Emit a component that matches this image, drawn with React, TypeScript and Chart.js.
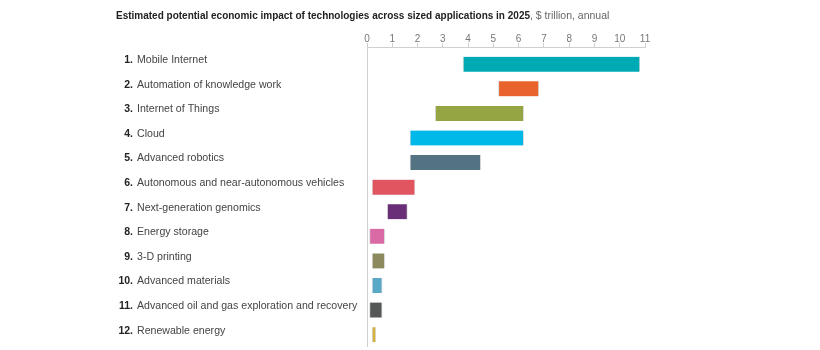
import React, { useEffect, useRef } from "react";
import { Chart, registerables } from "chart.js";

Chart.register(...registerables);

const titleBold = "Estimated potential economic impact of technologies across sized applications in 2025";
const titleRest = ", $ trillion, annual";

const categories = [
  "Mobile Internet",
  "Automation of knowledge work",
  "Internet of Things",
  "Cloud",
  "Advanced robotics",
  "Autonomous and near-autonomous vehicles",
  "Next-generation genomics",
  "Energy storage",
  "3-D printing",
  "Advanced materials",
  "Advanced oil and gas exploration and recovery",
  "Renewable energy",
];

const lowValues = [3.8, 5.2, 2.7, 1.7, 1.7, 0.2, 0.8, 0.1, 0.2, 0.2, 0.1, 0.2];
const highValues = [10.8, 6.8, 6.2, 6.2, 4.5, 1.9, 1.6, 0.7, 0.7, 0.6, 0.6, 0.35];

const barColors = [
  "#00AAB5",
  "#E8642C",
  "#95A544",
  "#00B9E9",
  "#537383",
  "#E15561",
  "#6A2D78",
  "#DA6AA6",
  "#8B8A5C",
  "#5AA8C8",
  "#555656",
  "#D5B13E",
];

const xTicks = [0, 1, 2, 3, 4, 5, 6, 7, 8, 9, 10, 11];

const FONT = "'Liberation Sans', Arial, Helvetica, sans-serif";

const labelsPlugin = {
  id: "labelsPlugin",
  afterDraw(chart: any) {
    const ctx = chart.ctx;
    const yScale = chart.scales.y;
    ctx.save();
    // title
    ctx.textBaseline = "middle";
    ctx.textAlign = "left";
    ctx.font = `bold 10px ${FONT}`;
    ctx.fillStyle = "#222";
    ctx.fillText(titleBold, 116, 16);
    const w = ctx.measureText(titleBold).width;
    ctx.font = `10.5px ${FONT}`;
    ctx.fillStyle = "#666";
    ctx.fillText(titleRest, 116 + w, 16);
    // category labels
    categories.forEach((c, i) => {
      const y = yScale.getPixelForValue(i) - 4;
      ctx.textAlign = "right";
      ctx.font = `bold 10.5px ${FONT}`;
      ctx.fillStyle = "#222";
      ctx.fillText(`${i + 1}.`, 133, y);
      ctx.textAlign = "left";
      ctx.font = `10.6px ${FONT}`;
      ctx.fillStyle = "#444";
      ctx.fillText(c, 137, y);
    });
    ctx.restore();
  },
};

export default function App() {
  const ref = useRef<HTMLCanvasElement>(null);
  useEffect(() => {
    if (!ref.current) return;
    const chart = new Chart(ref.current, {
      type: "bar",
      data: {
        datasets: [
          {
            data: categories.map((_, i) => ({ x: [lowValues[i], highValues[i]], y: i })) as any,
            backgroundColor: barColors,
            borderColor: "rgba(215,215,215,0.9)",
            borderWidth: { left: 1, right: 1, top: 0, bottom: 0 } as any,
            borderSkipped: false,
            barThickness: 15,
          },
        ],
      },
      options: {
        indexAxis: "y",
        animation: false,
        responsive: false,
        events: [],
        layout: { padding: { left: 367, right: 175, top: 30, bottom: 3 } },
        plugins: { legend: { display: false }, tooltip: { enabled: false } },
        scales: {
          x: {
            type: "linear",
            position: "top",
            min: 0,
            max: 11,
            afterBuildTicks: (s: any) => {
              s.ticks = xTicks.map((v) => ({ value: v }));
            },
            afterFit: (s: any) => {
              s.height = 17;
            },
            ticks: {
              color: "#777",
              font: { family: FONT, size: 10 },
              padding: -2,
              maxRotation: 0,
              autoSkip: false,
            },
            grid: {
              drawOnChartArea: true,
              color: (c: any) => (c.tick && c.tick.value === 0 ? "#d0d0d0" : "transparent"),
              tickColor: "#cfcfcf",
              tickLength: 4,
              lineWidth: 1,
            },
            border: { display: true, color: "#d0d0d0" },
          },
          y: {
            type: "linear",
            reverse: true,
            offset: false,
            grid: { offset: false },
            min: -0.7,
            max: 11.5,
            display: false,
          },
        },
      },
      plugins: [labelsPlugin],
    });
    return () => chart.destroy();
  }, []);
  return (
    <div style={{ position: "fixed", left: 0, top: 0, width: 820, height: 350, background: "#fff" }}>
      <canvas ref={ref} width={820} height={350} />
    </div>
  );
}
